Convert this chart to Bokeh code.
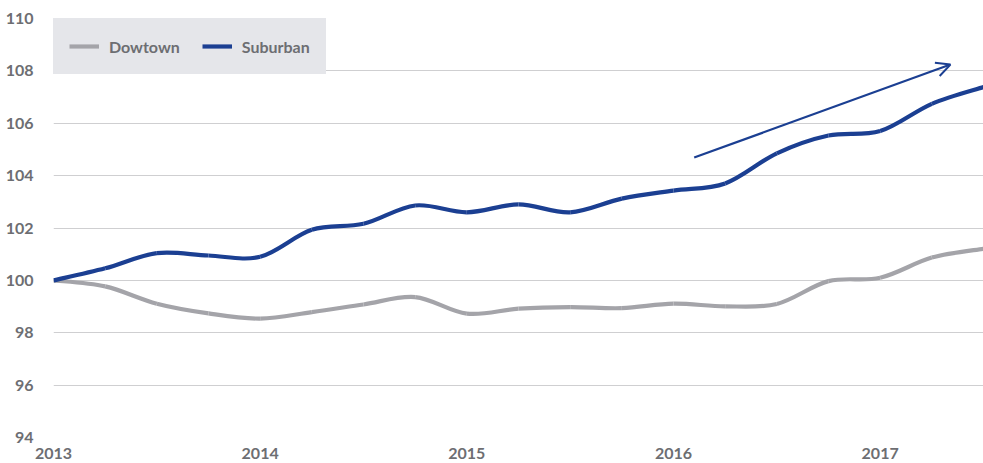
from bokeh.plotting import figure
from bokeh.models import Legend, LegendItem, Arrow, OpenHead, FixedTicker, ColumnDataSource, Range1d
from bokeh.embed import file_html
from bokeh.resources import INLINE

# ---- data (quarterly index, 2013 = 100) ----
quarters = [2013.0, 2013.25, 2013.5, 2013.75, 2014.0, 2014.25, 2014.5, 2014.75,
            2015.0, 2015.25, 2015.5, 2015.75, 2016.0, 2016.25, 2016.5, 2016.75,
            2017.0, 2017.25, 2017.5]
downtown = [100.0, 99.77, 99.11, 98.74, 98.54, 98.79, 99.08, 99.36,
            98.73, 98.92, 98.98, 98.94, 99.11, 99.01, 99.10, 99.97,
            100.10, 100.87, 101.21]
suburban = [100.0, 100.46, 101.04, 100.95, 100.90, 101.93, 102.16, 102.86,
            102.60, 102.90, 102.60, 103.12, 103.43, 103.70, 104.85, 105.53,
            105.70, 106.74, 107.38]
series_names = ["Dowtown", "Suburban"]
year_ticks = [2013, 2014, 2015, 2016, 2017]
value_ticks = [94, 96, 98, 100, 102, 104, 106, 108, 110]
trend_arrow_x = [2016.1, 2017.34]
trend_arrow_y = [104.69, 108.24]

GRAY = "#a4a4a9"
BLUE = "#1b3f92"
TEXT = "#6d6e72"
LEGEND_BG = "#e5e6ea"
FONT = "Lato"


def smooth_source(xs, ys):
    """Catmull-Rom style bezier segments through the data points."""
    n = len(xs)
    d = dict(x0=[], y0=[], x1=[], y1=[], cx0=[], cy0=[], cx1=[], cy1=[])
    for i in range(n - 1):
        xm = xs[i - 1] if i > 0 else xs[i]
        ym = ys[i - 1] if i > 0 else ys[i]
        xp = xs[i + 2] if i + 2 < n else xs[i + 1]
        yp = ys[i + 2] if i + 2 < n else ys[i + 1]
        d["x0"].append(xs[i]); d["y0"].append(ys[i])
        d["x1"].append(xs[i + 1]); d["y1"].append(ys[i + 1])
        d["cx0"].append(xs[i] + (xs[i + 1] - xm) / 6)
        d["cy0"].append(ys[i] + (ys[i + 1] - ym) / 6)
        d["cx1"].append(xs[i + 1] - (xp - xs[i]) / 6)
        d["cy1"].append(ys[i + 1] - (yp - ys[i]) / 6)
    return ColumnDataSource(d)


p = figure(width=983, height=463, output_backend="svg", toolbar_location=None,
           x_range=Range1d(2013, 2017.5), y_range=Range1d(94, 110),
           min_border_left=53, min_border_right=0, min_border_top=18, min_border_bottom=26)
p.outline_line_color = None
p.background_fill_color = "white"
p.border_fill_color = "white"

p.xgrid.grid_line_color = None
p.ygrid.grid_line_color = "#cfcfd1"
p.ygrid.grid_line_width = 1.2

for ax in (p.xaxis[0], p.yaxis[0]):
    ax.axis_line_color = None
    ax.major_tick_line_color = None
    ax.minor_tick_line_color = None
    ax.major_label_text_color = TEXT
    ax.major_label_text_font = FONT
    ax.major_label_text_font_style = "bold"
    ax.major_label_text_font_size = "16px"
p.xaxis[0].ticker = FixedTicker(ticks=year_ticks)
p.yaxis[0].ticker = FixedTicker(ticks=value_ticks)
p.xaxis[0].major_label_standoff = 4
p.yaxis[0].major_label_standoff = 14

r_down = p.bezier(x0="x0", y0="y0", x1="x1", y1="y1", cx0="cx0", cy0="cy0", cx1="cx1", cy1="cy1",
                  source=smooth_source(quarters, downtown), line_color=GRAY, line_width=4.2)
r_sub = p.bezier(x0="x0", y0="y0", x1="x1", y1="y1", cx0="cx0", cy0="cy0", cx1="cx1", cy1="cy1",
                 source=smooth_source(quarters, suburban), line_color=BLUE, line_width=4.2)

p.add_layout(Arrow(end=OpenHead(line_color=BLUE, line_width=2, size=14),
                   x_start=trend_arrow_x[0], y_start=trend_arrow_y[0],
                   x_end=trend_arrow_x[1], y_end=trend_arrow_y[1],
                   line_color=BLUE, line_width=2.2))

legend = Legend(items=[LegendItem(label=series_names[0], renderers=[r_down]),
                       LegendItem(label=series_names[1], renderers=[r_sub])],
                location="top_left", orientation="horizontal",
                background_fill_color=LEGEND_BG, background_fill_alpha=1,
                border_line_color=LEGEND_BG, border_line_alpha=1, border_line_width=1,
                margin=0, padding=15, spacing=22,
                glyph_width=30, glyph_height=24, label_height=24, label_standoff=10,
                label_text_font=FONT, label_text_font_style="bold",
                label_text_font_size="16px", label_text_color=TEXT)
p.add_layout(legend)

open("out.html", "w").write(file_html(p, INLINE))
